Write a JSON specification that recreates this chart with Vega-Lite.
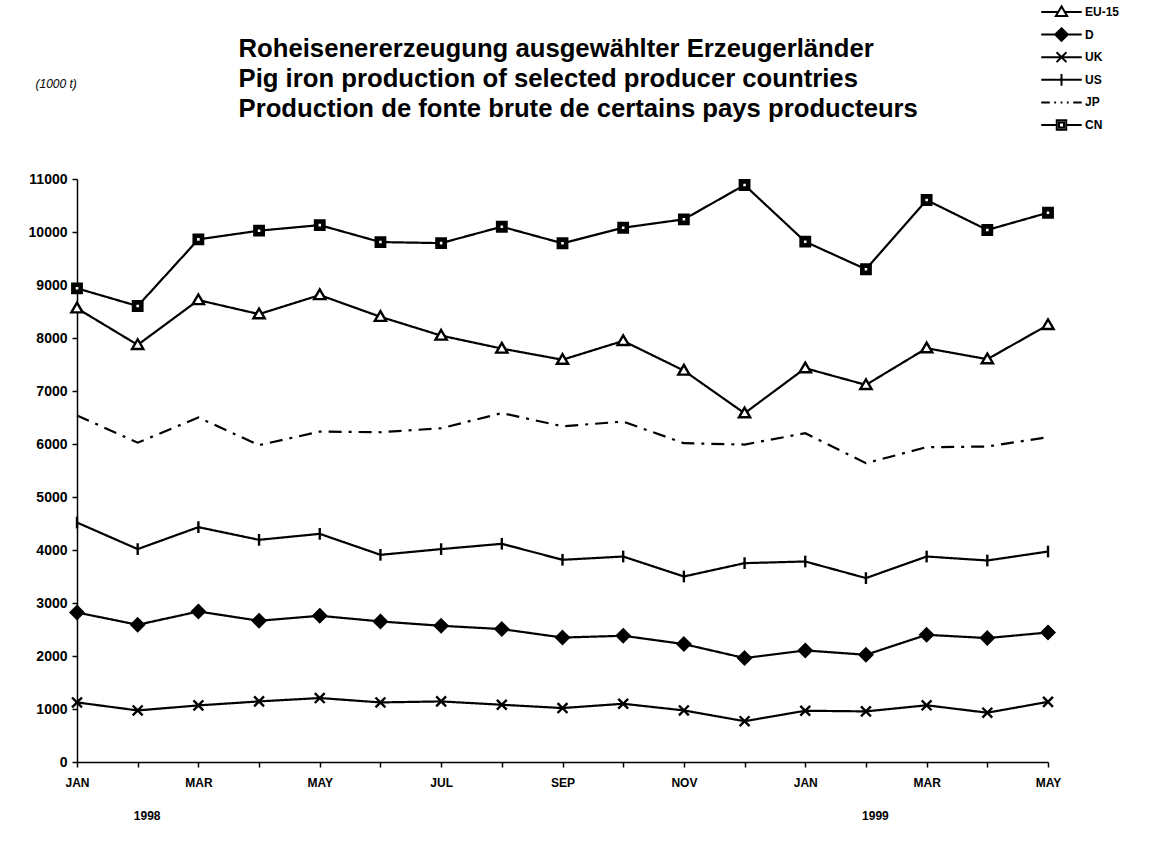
{
  "$schema": "https://vega.github.io/schema/vega-lite/v6.json",
  "width": 971,
  "height": 583,
  "autosize": {"type": "none"},
  "padding": {"left": 77, "top": 179, "right": 117, "bottom": 85},
  "background": "white",
  "config": {"view": {"stroke": null}, "font": "Liberation Sans"},
  "data": {"values": [
    {"m":0,"s":"EU-15","v":8560},{"m":1,"s":"EU-15","v":7870},{"m":2,"s":"EU-15","v":8715},{"m":3,"s":"EU-15","v":8450},{"m":4,"s":"EU-15","v":8810},{"m":5,"s":"EU-15","v":8400},{"m":6,"s":"EU-15","v":8045},{"m":7,"s":"EU-15","v":7800},{"m":8,"s":"EU-15","v":7590},{"m":9,"s":"EU-15","v":7945},{"m":10,"s":"EU-15","v":7385},{"m":11,"s":"EU-15","v":6580},{"m":12,"s":"EU-15","v":7430},{"m":13,"s":"EU-15","v":7115},{"m":14,"s":"EU-15","v":7807},{"m":15,"s":"EU-15","v":7600},{"m":16,"s":"EU-15","v":8246},
    {"m":0,"s":"D","v":2821},{"m":1,"s":"D","v":2589},{"m":2,"s":"D","v":2840},{"m":3,"s":"D","v":2665},{"m":4,"s":"D","v":2759},{"m":5,"s":"D","v":2652},{"m":6,"s":"D","v":2570},{"m":7,"s":"D","v":2508},{"m":8,"s":"D","v":2348},{"m":9,"s":"D","v":2382},{"m":10,"s":"D","v":2225},{"m":11,"s":"D","v":1961},{"m":12,"s":"D","v":2105},{"m":13,"s":"D","v":2023},{"m":14,"s":"D","v":2400},{"m":15,"s":"D","v":2338},{"m":16,"s":"D","v":2444},
    {"m":0,"s":"UK","v":1124},{"m":1,"s":"UK","v":973},{"m":2,"s":"UK","v":1068},{"m":3,"s":"UK","v":1143},{"m":4,"s":"UK","v":1207},{"m":5,"s":"UK","v":1124},{"m":6,"s":"UK","v":1143},{"m":7,"s":"UK","v":1080},{"m":8,"s":"UK","v":1018},{"m":9,"s":"UK","v":1099},{"m":10,"s":"UK","v":973},{"m":11,"s":"UK","v":770},{"m":12,"s":"UK","v":967},{"m":13,"s":"UK","v":955},{"m":14,"s":"UK","v":1070},{"m":15,"s":"UK","v":930},{"m":16,"s":"UK","v":1135},
    {"m":0,"s":"US","v":4518},{"m":1,"s":"US","v":4017},{"m":2,"s":"US","v":4431},{"m":3,"s":"US","v":4192},{"m":4,"s":"US","v":4305},{"m":5,"s":"US","v":3909},{"m":6,"s":"US","v":4017},{"m":7,"s":"US","v":4117},{"m":8,"s":"US","v":3815},{"m":9,"s":"US","v":3877},{"m":10,"s":"US","v":3500},{"m":11,"s":"US","v":3752},{"m":12,"s":"US","v":3783},{"m":13,"s":"US","v":3470},{"m":14,"s":"US","v":3877},{"m":15,"s":"US","v":3802},{"m":16,"s":"US","v":3971},
    {"m":0,"s":"JP","v":6540},{"m":1,"s":"JP","v":6025},{"m":2,"s":"JP","v":6500},{"m":3,"s":"JP","v":5978},{"m":4,"s":"JP","v":6234},{"m":5,"s":"JP","v":6222},{"m":6,"s":"JP","v":6297},{"m":7,"s":"JP","v":6582},{"m":8,"s":"JP","v":6335},{"m":9,"s":"JP","v":6423},{"m":10,"s":"JP","v":6015},{"m":11,"s":"JP","v":5990},{"m":12,"s":"JP","v":6204},{"m":13,"s":"JP","v":5638},{"m":14,"s":"JP","v":5940},{"m":15,"s":"JP","v":5952},{"m":16,"s":"JP","v":6129},
    {"m":0,"s":"CN","v":8937},{"m":1,"s":"CN","v":8603},{"m":2,"s":"CN","v":9861},{"m":3,"s":"CN","v":10025},{"m":4,"s":"CN","v":10130},{"m":5,"s":"CN","v":9810},{"m":6,"s":"CN","v":9790},{"m":7,"s":"CN","v":10100},{"m":8,"s":"CN","v":9787},{"m":9,"s":"CN","v":10081},{"m":10,"s":"CN","v":10239},{"m":11,"s":"CN","v":10886},{"m":12,"s":"CN","v":9817},{"m":13,"s":"CN","v":9297},{"m":14,"s":"CN","v":10603},{"m":15,"s":"CN","v":10038},{"m":16,"s":"CN","v":10364}
  ]},
  "encoding": {
    "x": {
      "field": "m", "type": "quantitative",
      "scale": {"domain": [0, 16], "nice": false, "zero": false},
      "axis": {
        "values": [0,1,2,3,4,5,6,7,8,9,10,11,12,13,14,15,16],
        "labelExpr": "datum.value == 1 ? ['', '1998'] : datum.value == 13 ? ['', '1999'] : ['JAN','','MAR','','MAY','','JUL','','SEP','','NOV','','JAN','','MAR','','MAY'][datum.value]",
        "labelFont": "Liberation Sans", "labelFontSize": 12, "labelFontWeight": "bold", "labelColor": "black",
        "labelPadding": 10, "labelLineHeight": 33, "labelOverlap": false, "labelFlush": false, "labelBound": false, "labelAngle": 0,
        "labelOffset": {"condition": {"test": "datum.value == 1 || datum.value == 13", "value": 9}, "value": 0},
        "tickSize": 5, "tickColor": "black", "tickWidth": 1.5, "domainColor": "black", "domainWidth": 1.5, "grid": false,
        "title": "(1000 t)", "titleX": -42, "titleY": -679, "titleAngle": 0, "titleAlign": "left", "titleBaseline": "middle",
        "titleFont": "Liberation Sans", "titleFontStyle": "italic", "titleFontWeight": "normal", "titleFontSize": 12, "titleColor": "black"
      }
    },
    "y": {
      "field": "v", "type": "quantitative",
      "scale": {"domain": [0, 11000], "nice": false},
      "axis": {
        "values": [0,1000,2000,3000,4000,5000,6000,7000,8000,9000,10000,11000],
        "format": "d",
        "labelFont": "Liberation Sans", "labelFontSize": 14, "labelFontWeight": "bold", "labelColor": "black", "labelPadding": 5,
        "tickSize": 5, "tickColor": "black", "tickWidth": 1.5, "domainColor": "black", "domainWidth": 1.5, "grid": false,
        "title": ["Roheisenererzeugung ausgewählter Erzeugerländer", "Pig iron production of selected producer countries", "Production de fonte brute de certains pays producteurs"],
        "titleX": 161, "titleY": -143, "titleAngle": 0, "titleAlign": "left", "titleBaseline": "top",
        "titleFont": "Liberation Sans", "titleFontSize": 25.7, "titleFontWeight": "bold", "titleLineHeight": 30, "titleColor": "black"
      }
    }
  },
  "layer": [
    {
      "mark": {"type": "line", "color": "black"},
      "encoding": {
        "detail": {"field": "s", "type": "nominal"},
        "strokeDash": {"field": "s", "type": "nominal", "scale": {"domain": ["EU-15","D","UK","US","JP","CN"], "range": [[1,0],[1,0],[1,0],[1,0],[13,7,3,7],[1,0]]}, "legend": null},
        "strokeWidth": {"field": "s", "type": "nominal", "scale": {"domain": ["EU-15","D","UK","US","JP","CN"], "range": [2.2,2.2,1.6,2.2,2.2,2.2]}, "legend": null}
      }
    },
    {
      "transform": [{"filter": "datum.s !== 'JP'"}],
      "mark": {"type": "point", "filled": true, "fill": "white", "stroke": "black", "strokeWidth": 2.4, "size": 81, "opacity": 1},
      "encoding": {
        "shape": {"field": "s", "type": "nominal",
          "scale": {"domain": ["EU-15","D","UK","US","CN"],
            "range": [
              "M0,-1.25L1.25,0.9L-1.25,0.9Z",
              "M0,-1.4L1.4,0L0,1.4L-1.4,0Z M0,-0.9L0.9,0L0,0.9L-0.9,0Z M0,-0.4L0.4,0L0,0.4L-0.4,0Z",
              "M-1.1,-1.1L1.1,1.1M-1.1,1.1L1.1,-1.1",
              "M0,-1.3L0,1.3",
              "M-1.05,-1.05L1.05,-1.05L1.05,1.05L-1.05,1.05Z M-0.55,-0.55L0.55,-0.55L0.55,0.55L-0.55,0.55Z"
            ]},
          "legend": null}
      }
    },
    {
      "transform": [{"filter": "datum.v < 0"}],
      "mark": {"type": "point", "filled": false, "color": "black", "strokeWidth": 2, "size": 81, "opacity": 1},
      "encoding": {
        "shape": {"field": "s", "type": "nominal",
          "scale": {"domain": ["EU-15","D","UK","US","JP","CN"],
            "range": [
              "M-4.5,0L-0.6,0M0.6,0L4.5,0M0,-1.25L1.25,0.9L-1.25,0.9Z",
              "M-4.5,0L4.5,0M0,-1.4L1.4,0L0,1.4L-1.4,0Z M0,-0.9L0.9,0L0,0.9L-0.9,0Z M0,-0.4L0.4,0L0,0.4L-0.4,0Z",
              "M-4.5,0L4.5,0M-1.1,-1.1L1.1,1.1M-1.1,1.1L1.1,-1.1",
              "M-4.5,0L4.5,0M0,-1.3L0,1.3",
              "M-4.5,0L-2.6,0M-1.6,0L-1.2,0M-0.2,0L0.2,0M1.2,0L1.6,0M2.6,0L4.5,0",
              "M-4.5,0L-1,0M1,0L4.5,0M-1.05,-1.05L1.05,-1.05L1.05,1.05L-1.05,1.05Z M-0.55,-0.55L0.55,-0.55L0.55,0.55L-0.55,0.55Z"
            ]},
          "legend": {
            "orient": "none", "legendX": 978.5, "legendY": -173, "title": null, "padding": 0,
            "columns": 1, "gridAlign": "all",
            "symbolSize": 81, "symbolStrokeWidth": 2, "symbolStrokeColor": "black", "symbolOpacity": 1,
            "labelFont": "Liberation Sans", "labelFontSize": 12, "labelFontWeight": "bold", "labelColor": "black",
            "labelOffset": 17.5, "rowPadding": 0.6,
            "encode": {"symbols": {"update": {"stroke": {"value": "black"}, "strokeWidth": {"value": 2}, "fill": {"value": "white"}, "opacity": {"value": 1}, "strokeOpacity": {"value": 1}}}}
          }}
      }
    }
  ],
  "resolve": {"scale": {"shape": "independent"}}
}
